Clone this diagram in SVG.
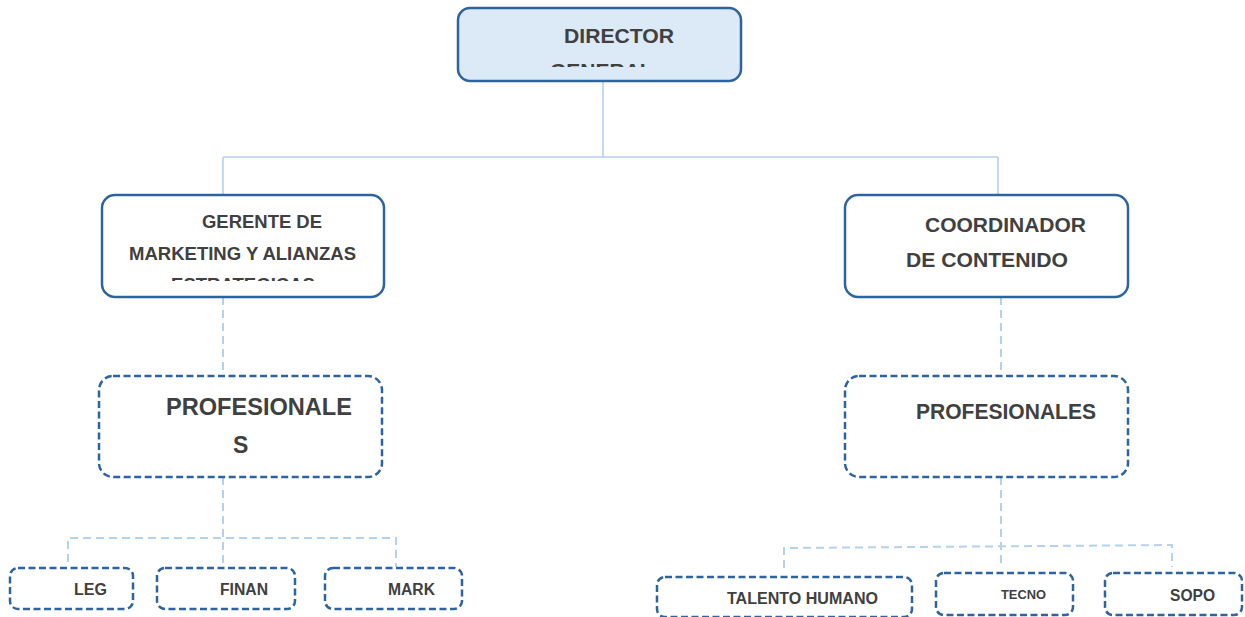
<svg xmlns="http://www.w3.org/2000/svg" width="1245" height="617" viewBox="0 0 1245 617">
<style>
.box{fill:#ffffff;stroke:#2c63a0;stroke-width:2.5}
.top{fill:#dce9f6}
.dash{fill:#ffffff;stroke:#2c63a0;stroke-width:2.5;stroke-dasharray:7 3.5}
.t{font-family:"Liberation Sans",Arial,sans-serif;font-weight:bold;fill:#404040}
.c{fill:none;stroke:#b4d1ee;stroke-width:1.6}
.cd{fill:none;stroke:#b4d1ee;stroke-width:2;stroke-dasharray:8 5}
</style>
<defs>
<clipPath id="clipDir"><rect x="458" y="8" width="284" height="59"/></clipPath>
<clipPath id="clipGer"><rect x="102" y="195" width="283" height="86"/></clipPath>
</defs>
<g id="connectors">
<path class="c" d="M603 81 V157 M223 157 H998 M223 157 V195 M998 157 V195"/>
<path class="cd" d="M223 297 V376 M1001 297 V376"/>
<path class="cd" d="M223 477 V563 M68 562 V538 H396 V567"/>
<path class="cd" d="M1001 477 V568 M784 568 V548 L1172 545 V567"/>
</g>
<g id="director">
<rect class="box top" x="458" y="8" width="283" height="73" rx="12"/>
<g clip-path="url(#clipDir)">
<text class="t" x="564" y="43" font-size="21" textLength="110" lengthAdjust="spacingAndGlyphs">DIRECTOR</text>
<text class="t" x="550" y="78" font-size="21">GENERAL</text>
</g>
</g>
<g id="gerente">
<rect class="box" x="102" y="195" width="282" height="102" rx="13"/>
<g clip-path="url(#clipGer)">
<text class="t" x="202" y="228" font-size="18.5" textLength="120" lengthAdjust="spacingAndGlyphs">GERENTE DE</text>
<text class="t" x="129" y="260" font-size="18.5" textLength="227" lengthAdjust="spacingAndGlyphs">MARKETING Y ALIANZAS</text>
<text class="t" x="171" y="291" font-size="18.5" textLength="144" lengthAdjust="spacingAndGlyphs">ESTRATEGICAS</text>
</g>
</g>
<g id="coordinador">
<rect class="box" x="845" y="195" width="283" height="102" rx="13"/>
<text class="t" x="925" y="232" font-size="21" textLength="161" lengthAdjust="spacingAndGlyphs">COORDINADOR</text>
<text class="t" x="906" y="267" font-size="21" textLength="162" lengthAdjust="spacingAndGlyphs">DE CONTENIDO</text>
</g>
<g id="profesionales-izq">
<rect class="dash" x="99" y="376" width="283" height="101" rx="14"/>
<text class="t" x="166" y="415" font-size="23" textLength="186" lengthAdjust="spacingAndGlyphs">PROFESIONALE</text>
<text class="t" x="233" y="453" font-size="23">S</text>
</g>
<g id="profesionales-der">
<rect class="dash" x="845" y="376" width="283" height="101" rx="14"/>
<text class="t" x="916" y="419" font-size="22" textLength="180" lengthAdjust="spacingAndGlyphs">PROFESIONALES</text>
</g>
<g id="leg">
<rect class="dash" x="10" y="568" width="123" height="41" rx="8"/>
<text class="t" x="74" y="595" font-size="16" textLength="33" lengthAdjust="spacingAndGlyphs">LEG</text>
</g>
<g id="finan">
<rect class="dash" x="157" y="568" width="138" height="41" rx="8"/>
<text class="t" x="220" y="595" font-size="16" textLength="48" lengthAdjust="spacingAndGlyphs">FINAN</text>
</g>
<g id="mark">
<rect class="dash" x="325" y="568" width="137" height="41" rx="8"/>
<text class="t" x="388" y="595" font-size="16" textLength="47" lengthAdjust="spacingAndGlyphs">MARK</text>
</g>
<g id="talento">
<rect class="dash" x="657" y="577" width="255" height="40" rx="8"/>
<text class="t" x="727" y="604" font-size="16" textLength="151" lengthAdjust="spacingAndGlyphs">TALENTO HUMANO</text>
</g>
<g id="tecno">
<rect class="dash" x="936" y="573" width="137" height="42" rx="8"/>
<text class="t" x="1001" y="599" font-size="13.5" textLength="45" lengthAdjust="spacingAndGlyphs">TECNO</text>
</g>
<g id="sopo">
<rect class="dash" x="1105" y="573" width="137" height="42" rx="8"/>
<text class="t" x="1170" y="601" font-size="17" textLength="45" lengthAdjust="spacingAndGlyphs">SOPO</text>
</g>
</svg>
